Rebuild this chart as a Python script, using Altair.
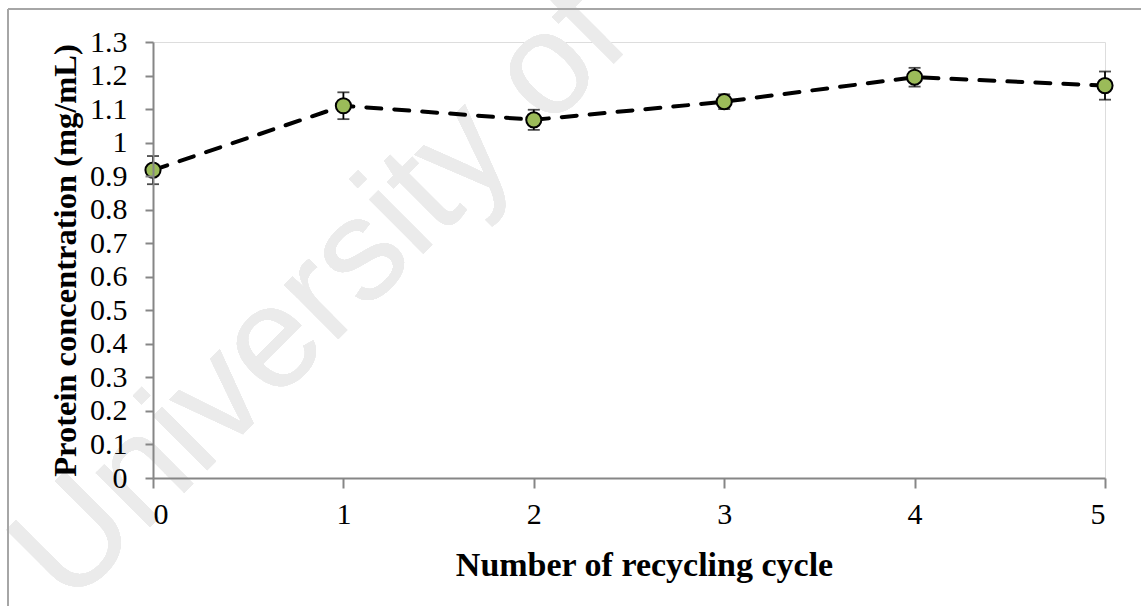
import altair as alt
import pandas as pd

cycles = [0, 1, 2, 3, 4, 5]
protein = [0.918, 1.11, 1.068, 1.122, 1.195, 1.17]
err = [0.042, 0.04, 0.03, 0.022, 0.028, 0.042]
y_ticks = [0.0, 0.1, 0.2, 0.3, 0.4, 0.5, 0.6, 0.7, 0.8, 0.9, 1.0, 1.1, 1.2, 1.3]

df = pd.DataFrame({"cycle": cycles, "protein": protein, "err": err})
df["lo"] = df["protein"] - df["err"]
df["hi"] = df["protein"] + df["err"]

FONT = "Liberation Serif"
AX = "#868686"

xscale = alt.Scale(domain=[0, 5], nice=False, zero=False)
yscale = alt.Scale(domain=[0, 1.3], nice=False)

xaxis = alt.Axis(
    values=cycles, format="d", title="Number of recycling cycle",
    grid=False, domainColor=AX, domainWidth=2, tickColor=AX, tickWidth=2, tickSize=10,
    labelFont=FONT, labelFontSize=30, labelColor="black", labelPadding=11,
    labelOverlap=False, zindex=1,
    titleFont=FONT, titleFontSize=34, titleFontWeight="bold", titleColor="black",
    titleX=491, titleY=87, titleBaseline="middle", titleAlign="center",
)
yaxis = alt.Axis(
    values=y_ticks, format=".1~f",
    title="Protein concentration (mg/mL)",
    grid=False, domainColor=AX, domainWidth=2, tickColor=AX, tickWidth=2, tickSize=8,
    labelFont=FONT, labelFontSize=30, labelColor="black", labelPadding=18,
    labelOverlap=False, zindex=1,
    titleFont=FONT, titleFontSize=32.5, titleFontWeight="bold", titleColor="black",
    titleX=-88, titleY=218, titleBaseline="middle", titleAlign="center", titleAngle=270,
)

X = alt.X("cycle:Q", scale=xscale, axis=xaxis)

base = alt.Chart(df)

watermark = base.mark_text(
    text="University of", font="Liberation Sans", fontSize=145, color="#ebebeb",
    angle=315, align="center", baseline="middle",
).encode(x=alt.value(167), y=alt.value(253))

frame_left = base.mark_rule(color="#a6a6a6", strokeWidth=1.5).encode(
    x=alt.value(-145), y=alt.value(-33), y2=alt.value(600))
frame_top = base.mark_rule(color="#a6a6a6", strokeWidth=1.5).encode(
    x=alt.value(-145), x2=alt.value(1000), y=alt.value(-33))

line = base.mark_line(
    color="black", strokeWidth=4, strokeDash=[15, 13], strokeCap="round"
).encode(
    x=X,
    y=alt.Y("protein:Q", scale=yscale, axis=yaxis),
)

bars = base.mark_rule(color="black", strokeWidth=1.8).encode(
    x=X, y=alt.Y("lo:Q", scale=yscale, axis=yaxis), y2="hi:Q")
cap_lo = base.mark_tick(color="black", thickness=1.8, size=12, orient="horizontal").encode(
    x=X, y=alt.Y("lo:Q", scale=yscale, axis=yaxis))
cap_hi = base.mark_tick(color="black", thickness=1.8, size=12, orient="horizontal").encode(
    x=X, y=alt.Y("hi:Q", scale=yscale, axis=yaxis))

points = base.mark_point(
    filled=True, fill="#9BBB59", stroke="black", strokeWidth=2, size=230, opacity=1, shape="circle"
).encode(x=X, y=alt.Y("protein:Q", scale=yscale, axis=yaxis))

chart = alt.layer(
    watermark, frame_left, frame_top, line, bars, cap_lo, cap_hi, points
).properties(
    width=952, height=436,
    autosize=alt.AutoSizeParams(type="none"),
    padding={"left": 153, "top": 42, "right": 36, "bottom": 128},
).configure_view(stroke=None, clip=False).configure(background="white")

chart.save("out.html", embed_options={"renderer": "svg", "actions": False})
